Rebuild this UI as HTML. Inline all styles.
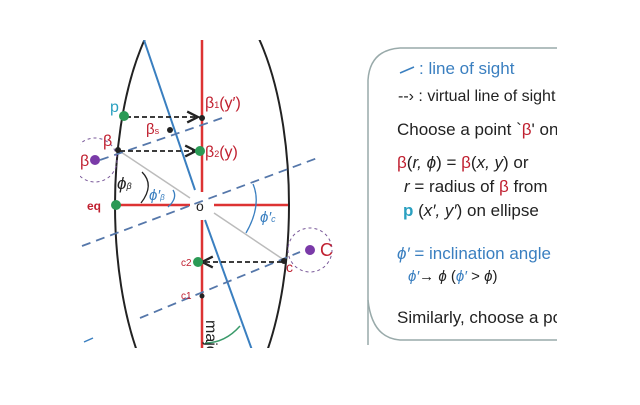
<!DOCTYPE html>
<html><head><style>
body{margin:0;background:#fff;width:640px;height:400px;overflow:hidden;font-family:"Liberation Sans",sans-serif}
</style></head><body>
<svg width="640" height="400" viewBox="0 0 640 400" xmlns="http://www.w3.org/2000/svg" font-family="Liberation Sans, sans-serif">
<defs>
<clipPath id="c"><rect x="80" y="40" width="477" height="308"/></clipPath>
<marker id="a" markerWidth="8" markerHeight="8" refX="7" refY="4" orient="auto"><path d="M1,1 L7,4 L1,7" fill="none" stroke="#222" stroke-width="1.3"/></marker>
</defs>
<g clip-path="url(#c)">
<ellipse cx="202" cy="205" rx="87" ry="220" fill="none" stroke="#222" stroke-width="2"/>
<line x1="202" y1="40" x2="202" y2="192" stroke="#d33" stroke-width="2.5"/>
<line x1="202" y1="220" x2="202" y2="350" stroke="#d33" stroke-width="2.5"/>
<line x1="116" y1="205" x2="190" y2="205" stroke="#d33" stroke-width="2.5"/>
<line x1="214" y1="205" x2="288" y2="205" stroke="#d33" stroke-width="2.5"/>
<line x1="144" y1="40" x2="195" y2="190" stroke="#3a7fc0" stroke-width="2"/>
<line x1="205" y1="220" x2="252" y2="350" stroke="#3a7fc0" stroke-width="2"/>
<line x1="118" y1="150" x2="190" y2="198" stroke="#bbb" stroke-width="1.5"/>
<line x1="214" y1="213" x2="284" y2="260" stroke="#bbb" stroke-width="1.5"/>
<g stroke="#5577aa" stroke-width="1.8" stroke-dasharray="9,6" fill="none">
<line x1="82" y1="246" x2="320" y2="157"/>
<line x1="100" y1="160" x2="225" y2="117"/>
<line x1="140" y1="318" x2="300" y2="252"/>
</g>
<g stroke="#222" stroke-width="1.8" stroke-dasharray="5,3" fill="none">
<line x1="126" y1="117" x2="198" y2="117" marker-end="url(#a)"/>
<line x1="120" y1="151" x2="196" y2="151" marker-end="url(#a)"/>
<line x1="282" y1="262" x2="202" y2="262" marker-end="url(#a)"/>
</g>
<circle cx="95" cy="160" r="22" fill="none" stroke="#7a5a9a" stroke-dasharray="3,3"/>
<circle cx="95" cy="160" r="5" fill="#7a3aa8"/>
<circle cx="310" cy="250" r="22" fill="none" stroke="#7a5a9a" stroke-dasharray="3,3"/>
<circle cx="310" cy="250" r="5" fill="#7a3aa8"/>
<path d="M142,172 Q155,185 141,203" fill="none" stroke="#222" stroke-width="1.3"/>
<path d="M173,190 Q178,198 168,207" fill="none" stroke="#3a7fc0" stroke-width="1.3"/>
<path d="M253,184 Q262,205 246,233" fill="none" stroke="#3a7fc0" stroke-width="1.3"/>
<path d="M205,343 Q225,343 240,326" fill="none" stroke="#3a9a6a" stroke-width="1.5"/>
<circle cx="124" cy="116" r="5" fill="#2a9a55"/>
<circle cx="200" cy="151" r="5" fill="#2a9a55"/>
<circle cx="116" cy="205" r="5" fill="#2a9a55"/>
<circle cx="198" cy="262" r="5" fill="#2a9a55"/>
<circle cx="202" cy="118" r="3" fill="#222"/>
<circle cx="170" cy="130" r="3" fill="#222"/>
<circle cx="118" cy="150" r="3" fill="#222"/>
<circle cx="284" cy="261" r="3" fill="#222"/>
<circle cx="202" cy="296" r="2.5" fill="#222"/>
<text x="110" y="112" fill="#2aa0c0" font-size="16">p</text>
<text x="205" y="108" fill="#c02030" font-size="16">β<tspan font-size="9">1</tspan>(y′)</text>
<text x="146" y="134" fill="#c02030" font-size="15">β<tspan font-size="9">s</tspan></text>
<text x="205" y="157" fill="#c02030" font-size="16">β<tspan font-size="9">2</tspan>(y)</text>
<text x="103" y="146" fill="#c02030" font-size="16">β</text>
<text x="80" y="166" fill="#c02030" font-size="16">β</text>
<text x="117" y="189" fill="#222" font-size="17" font-style="italic">ϕ<tspan font-size="9">β</tspan></text>
<text x="149" y="200" fill="#3a7fc0" font-size="15" font-style="italic">ϕ′<tspan font-size="8">β</tspan></text>
<text x="87" y="210" fill="#c02030" font-size="12" font-weight="bold">eq</text>
<text x="196" y="211" fill="#222" font-size="14">o</text>
<text x="260" y="222" fill="#3a7fc0" font-size="15" font-style="italic">ϕ′<tspan font-size="9">c</tspan></text>
<text x="320" y="256" fill="#c02030" font-size="18">C</text>
<text x="286" y="272" fill="#c02030" font-size="14">c</text>
<text x="181" y="266" fill="#c02030" font-size="10">c2</text>
<text x="181" y="299" fill="#c02030" font-size="10">c1</text>
<text x="0" y="0" fill="#222" font-size="16" transform="translate(206,320) rotate(90)">majo</text>
<line x1="84" y1="342" x2="93" y2="338" stroke="#3a7fc0" stroke-width="1.5"/>
<path d="M368,345 L368,80 Q370,50 400,48 L560,48" fill="none" stroke="#9aa" stroke-width="1.5"/>
<path d="M368,300 Q372,338 400,340 L560,340" fill="none" stroke="#9aa" stroke-width="1.5"/>
<line x1="400" y1="73" x2="414" y2="67" stroke="#3a7fc0" stroke-width="1.5"/>
<text x="419" y="74" fill="#3a7fc0" font-size="17">: line of sight</text>
<text x="398" y="101" fill="#222" font-size="16">--› : virtual line of sight</text>
<text x="397" y="135" fill="#222" font-size="17">Choose a point `<tspan fill="#c02030">β</tspan>' on</text>
<text x="397" y="168" fill="#222" font-size="17"><tspan fill="#c02030">β</tspan>(<tspan font-style="italic">r, ϕ</tspan>) = <tspan fill="#c02030">β</tspan>(<tspan font-style="italic">x, y</tspan>)  or</text>
<text x="404" y="192" fill="#222" font-size="17"><tspan font-style="italic">r</tspan> = radius of <tspan fill="#c02030">β</tspan> from</text>
<text x="403" y="216" fill="#222" font-size="17"><tspan fill="#2aa0c0" font-weight="bold">p</tspan> (<tspan font-style="italic">x′, y′</tspan>) on ellipse</text>
<text x="397" y="259" fill="#3a7fc0" font-size="17"><tspan font-style="italic">ϕ′</tspan> = inclination angle</text>
<text x="408" y="281" fill="#222" font-size="15"><tspan fill="#3a7fc0" font-style="italic">ϕ′</tspan>→ <tspan font-style="italic">ϕ</tspan> (<tspan fill="#3a7fc0" font-style="italic">ϕ′</tspan> &gt; <tspan font-style="italic">ϕ</tspan>)</text>
<text x="397" y="323" fill="#222" font-size="17">Similarly, choose a point</text>
</g>
</svg>
</body></html>
